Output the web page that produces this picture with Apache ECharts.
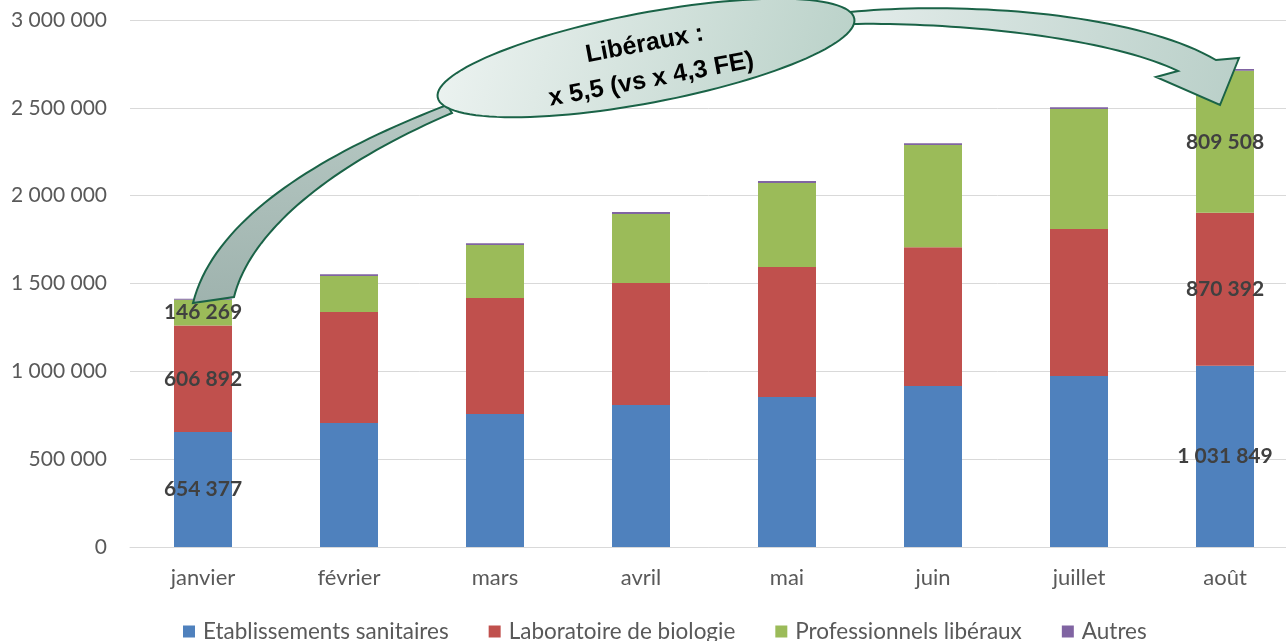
<!DOCTYPE html>
<html><head><meta charset="utf-8">
<script src="https://cdn.jsdelivr.net/npm/echarts@6/dist/echarts.min.js"></script>
<style>html,body{margin:0;padding:0;background:#fff;}#c{width:1286px;height:641px;}</style>
</head><body><div id="c"></div>
<script>
const categories = ['janvier','février','mars','avril','mai','juin','juillet','août'];
const etablissements = [654377, 706000, 757000, 808000, 854000, 916000, 973000, 1031849];
const laboratoires = [606892, 632000, 660000, 695000, 740000, 791000, 837000, 870392];
const liberaux = [146269, 205000, 302000, 393000, 478000, 581000, 683000, 809508];
const autres = [5000, 9000, 10000, 11000, 11000, 11000, 11000, 9000];
const seriesNames = ['Etablissements sanitaires','Laboratoire de biologie','Professionnels libéraux','Autres'];
const colors = ['#4f81bd','#c0504d','#9bbb59','#8064a2'];
const labelledIdx = [0, 7];
const annotationLines = ['Libéraux :', 'x 5,5 (vs x 4,3 FE)'];

function fmt(v){ return String(Math.round(v)).replace(/\B(?=(\d{3})+(?!\d))/g,' '); }
function grad(x2, y2, c1, c2){ return {type:'linear', x:0, y:0, x2:x2, y2:y2, colorStops:[{offset:0,color:c1},{offset:1,color:c2}]}; }
function bez(p0,p1,p2,p3,n){
  const pts=[];
  for(let i=0;i<=n;i++){const t=i/n,u=1-t;
    pts.push([u*u*u*p0[0]+3*u*u*t*p1[0]+3*u*t*t*p2[0]+t*t*t*p3[0],
              u*u*u*p0[1]+3*u*u*t*p1[1]+3*u*t*t*p2[1]+t*t*t*p3[1]]);}
  return pts;
}
function ellipsePts(cx,cy,rx,ry,ang,n){
  const pts=[],c=Math.cos(ang),s=Math.sin(ang);
  for(let i=0;i<n;i++){const a=2*Math.PI*i/n,x=rx*Math.cos(a),y=ry*Math.sin(a);
    pts.push([cx+x*c-y*s, cy+x*s+y*c]);}
  return pts;
}
const leftArrow = bez([447,105],[330,150],[215,215],[193,303],40).concat(bez([234,297],[250,232],[330,165],[452,113],40));
const rightArrow = bez([850,12],[950,2],[1130,10],[1216,60],40)
  .concat([[1239,58],[1220,105],[1156,77]])
  .concat(bez([1178,71],[1105,36],[950,22],[850,24],40));
const ell = ellipsePts(646,58,212,45,-0.187,120);

function mk(name, arr, color, withLabels){
  return {
    name, type:'bar', stack:'t', barWidth:58, itemStyle:{color},
    data: arr.map((v,i)=>({
      value:v,
      label:{show: withLabels && labelledIdx.includes(i)}
    })),
    label:{position:'inside', formatter:p=>fmt(p.value), fontFamily:'Lato', fontWeight:'bold', fontSize:21, color:'#404040'},
    emphasis:{disabled:true}
  };
}

const chart = echarts.init(document.getElementById('c'));
chart.setOption({
  animation:false,
  color: colors,
  grid:{left:130, top:20, right:-12, bottom:94, outerBoundsMode:'none', containLabel:false},
  legend:{
    top:615, left:178, itemWidth:12, itemHeight:12, itemGap:40, icon:'rect',
    textStyle:{fontFamily:'Lato', fontSize:22.5, color:'#595959', padding:[0,0,0,3]},
    data: seriesNames
  },
  xAxis:{
    type:'category', data:categories,
    axisTick:{show:false},
    axisLine:{lineStyle:{color:'#d9d9d9', width:1}},
    axisLabel:{fontFamily:'Lato', fontSize:22, color:'#595959', margin:20}
  },
  yAxis:{
    type:'value', min:0, max:3000000, interval:500000,
    axisLabel:{fontFamily:'Lato', fontSize:21, color:'#595959', margin:23, formatter:v=>fmt(v)},
    splitLine:{lineStyle:{color:'#d9d9d9', width:1}},
    axisLine:{show:false}, axisTick:{show:false}
  },
  series:[
    mk(seriesNames[0], etablissements, colors[0], true),
    mk(seriesNames[1], laboratoires, colors[1], true),
    mk(seriesNames[2], liberaux, colors[2], true),
    mk(seriesNames[3], autres, colors[3], false)
  ],
  graphic:[
    {type:'polygon', z:100, shape:{points:leftArrow},
     style:{fill:grad(0,1,'#b6c8c3','#9fb3ae'), stroke:'#1a6347', lineWidth:2}},
    {type:'polygon', z:100, shape:{points:rightArrow},
     style:{fill:grad(1,1,'#e3ecea','#b9cfc8'), stroke:'#1a6347', lineWidth:2}},
    {type:'polygon', z:101, shape:{points:ell},
     style:{fill:grad(1,1,'#eef4f2','#b8d0c7'), stroke:'#1a6347', lineWidth:2}},
    {type:'text', z:102, x:648, y:62, rotation:0.187,
     style:{text:annotationLines.join('\n'), fontFamily:'Liberation Sans', fontWeight:'bold', fontSize:25, fill:'#000', align:'center', verticalAlign:'middle', lineHeight:36}}
  ]
});
</script></body></html>
